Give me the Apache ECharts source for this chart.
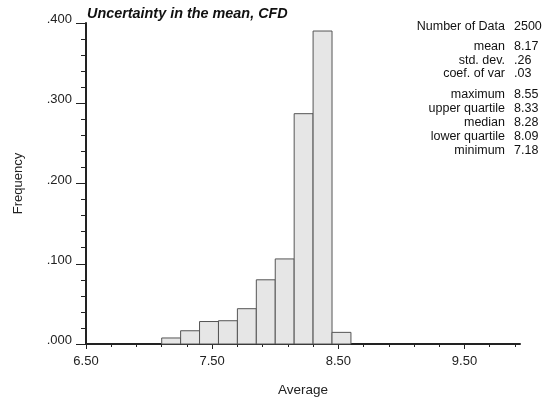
<!DOCTYPE html>
<html>
<head>
<meta charset="utf-8">
<script src="https://cdn.jsdelivr.net/npm/echarts@6/dist/echarts.min.js"></script>
<style>
  html, body { margin: 0; padding: 0; background: #fff; }
  #chart { width: 557px; height: 402px; }
</style>
</head>
<body>
<div id="chart"></div>
<script>
// Histogram bins: lower edges and common width (Average)
const binStarts = [7.10, 7.25, 7.40, 7.55, 7.70, 7.85, 8.00, 8.15, 8.30, 8.45];
const binWidth = 0.15;
// Relative frequency of each bin
const frequencies = [0.0075, 0.0165, 0.028, 0.029, 0.044, 0.080, 0.106, 0.287, 0.390, 0.0145];

// Tick labels
const xTickLabels = [6.5, 7.5, 8.5, 9.5];
const yTickLabels = [0, 0.1, 0.2, 0.3, 0.4];

// Summary statistics block
const statLabels = ['Number of Data', 'mean', 'std. dev.', 'coef. of var', 'maximum', 'upper quartile', 'median', 'lower quartile', 'minimum'];
const statValues = ['2500', '8.17', '.26', '.03', '8.55', '8.33', '8.28', '8.09', '7.18'];

const FONT = '"Liberation Sans", Arial, Helvetica, sans-serif';

// Minor ticks every 0.2 along the Average axis
const xMinorTicks = [];
for (let k = 0; k <= 17; k++) xMinorTicks.push(+(6.5 + k * 0.2).toFixed(2));

const chart = echarts.init(document.getElementById('chart'), null, { renderer: 'canvas' });

const statY = [27, 47, 61, 74, 95, 109, 123, 137, 151];
const statGraphics = [];
statLabels.forEach((lab, i) => {
  statGraphics.push({
    type: 'text', x: 505, y: statY[i],
    style: { text: lab, fill: '#111', font: '12.5px ' + FONT, textAlign: 'right', textVerticalAlign: 'middle' }
  });
  statGraphics.push({
    type: 'text', x: 514, y: statY[i],
    style: { text: statValues[i], fill: '#111', font: '12.5px ' + FONT, textAlign: 'left', textVerticalAlign: 'middle' }
  });
});

const xRange = { min: 6.5, max: 9.94 };

chart.setOption({
  animation: false,
  backgroundColor: '#fff',
  grid: { left: 86, right: 37, top: 23, bottom: 57, containLabel: false },
  graphic: [
    {
      type: 'text', x: 87, y: 14,
      style: { text: 'Uncertainty in the mean, CFD', fill: '#111', font: 'italic bold 14.4px ' + FONT, textVerticalAlign: 'middle' }
    }
  ].concat(statGraphics),
  xAxis: [{
    type: 'value',
    min: xRange.min,
    max: xRange.max,
    name: 'Average',
    nameLocation: 'middle',
    nameGap: 39,
    nameTextStyle: { fontFamily: FONT, fontSize: 13.5, color: '#222' },
    splitLine: { show: false },
    axisLine: { show: true, lineStyle: { color: '#222', width: 2 } },
    axisTick: { show: true, customValues: xMinorTicks, length: 3, lineStyle: { color: '#222', width: 1 } },
    axisLabel: {
      customValues: xTickLabels,
      margin: 11,
      fontFamily: FONT, fontSize: 13, color: '#222',
      formatter: v => v.toFixed(2)
    }
  }, {
    // longer ticks at the labelled values
    type: 'value',
    position: 'bottom',
    min: xRange.min,
    max: xRange.max,
    splitLine: { show: false },
    axisLine: { show: false },
    axisTick: { show: true, customValues: xTickLabels, length: 5, lineStyle: { color: '#222', width: 1 } },
    axisLabel: { show: false }
  }],
  yAxis: {
    type: 'value',
    min: 0,
    max: 0.4,
    interval: 0.1,
    name: 'Frequency',
    nameLocation: 'middle',
    nameGap: 61,
    nameRotate: 90,
    nameTextStyle: { fontFamily: FONT, fontSize: 13, color: '#222' },
    splitLine: { show: false },
    axisLine: { show: true, lineStyle: { color: '#222', width: 2 } },
    axisTick: { show: true, length: 10, lineStyle: { color: '#222', width: 1 } },
    minorTick: { show: true, splitNumber: 5, length: 5, lineStyle: { color: '#222', width: 1 } },
    axisLabel: {
      customValues: yTickLabels,
      margin: 14,
      verticalAlign: 'bottom',
      lineHeight: 7,
      fontFamily: FONT, fontSize: 13, color: '#222',
      formatter: v => v.toFixed(3).replace(/^0/, '')
    }
  },
  series: [{
    type: 'custom',
    xAxisIndex: 0,
    data: binStarts.map((s, i) => [s, s + binWidth, frequencies[i]]),
    encode: { x: [0, 1], y: 2 },
    renderItem: function (params, api) {
      const p0 = api.coord([api.value(0), api.value(2)]);
      const p1 = api.coord([api.value(1), 0]);
      return {
        type: 'rect',
        shape: { x: p0[0], y: p0[1], width: p1[0] - p0[0], height: p1[1] - p0[1] },
        style: { fill: '#e6e6e6', stroke: '#555', lineWidth: 1 }
      };
    }
  }]
});
</script>
</body>
</html>
